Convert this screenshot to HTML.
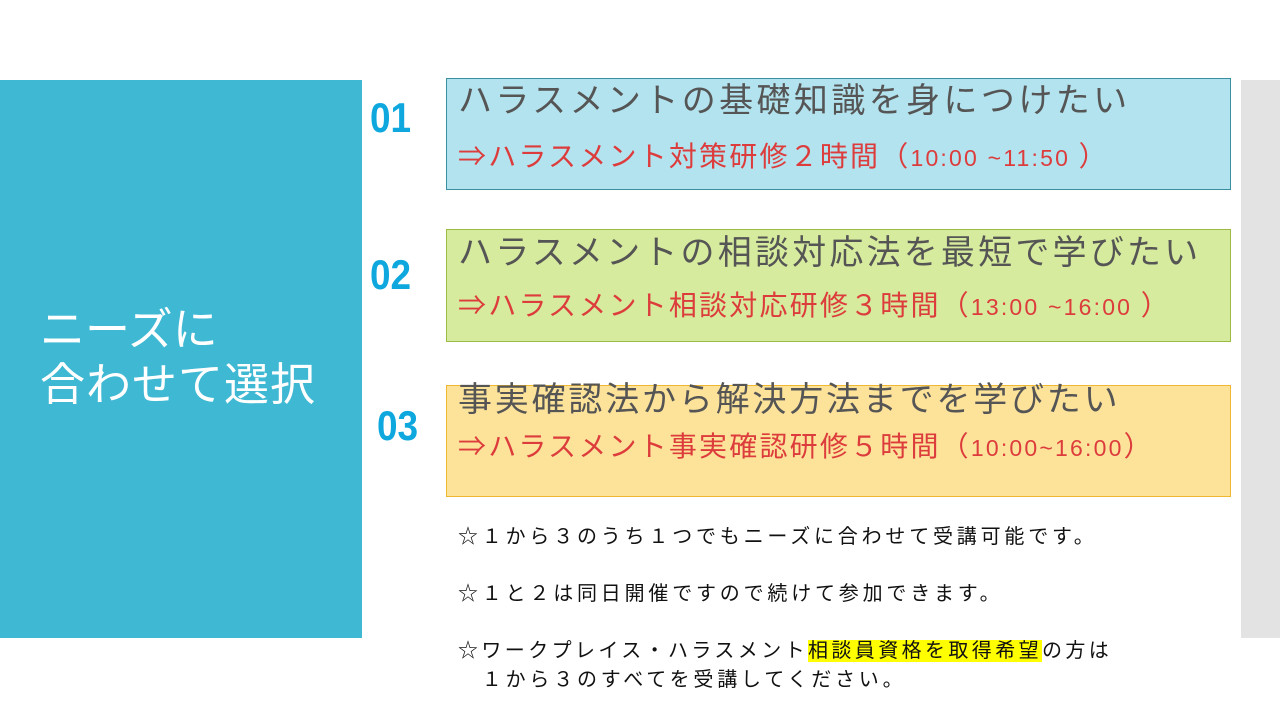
<!DOCTYPE html>
<html><head><meta charset="utf-8"><style>
body{margin:0;width:1280px;height:720px;background:#fff;position:relative;overflow:hidden;font-family:"Liberation Sans","Noto Sans CJK JP",sans-serif}
.a{position:absolute;white-space:nowrap}
.box{position:absolute;left:446px;width:785px;box-sizing:border-box}
.t{position:absolute;left:11px;color:#555;font-size:34px;line-height:40px;white-space:nowrap}
.r{position:absolute;left:11px;color:#dd3c3c;font-size:28px;line-height:32px;white-space:nowrap}
.r small{font-size:23px}
.n{position:absolute;color:#0ea8df;font-weight:bold;font-size:42px;transform:scaleX(.88);transform-origin:left}
.note{position:absolute;left:458px;font-size:20px;color:#111;line-height:26px;white-space:nowrap}
</style></head><body>
<div class="a" style="left:0;top:80px;width:362px;height:558px;background:#3fb8d3"></div>
<div class="a" style="left:1241px;top:80px;width:39px;height:558px;background:#e3e3e3"></div>
<div class="a" style="left:40px;top:302px;color:#fff;font-size:45px;line-height:55px">ニーズに<br><span style="letter-spacing:1px">合わせて選択</span></div>

<div class="n" style="left:370px;top:94px">01</div>
<div class="n" style="left:370px;top:251px">02</div>
<div class="n" style="left:377px;top:402px">03</div>

<div class="box" style="top:78px;height:112px;background:#b3e3ee;border:1px solid #3a8fa0">
<div class="t" style="top:2px;letter-spacing:3.4px">ハラスメントの基礎知識を身につけたい</div>
<div class="r" style="top:62px;letter-spacing:2.2px">⇒ハラスメント対策研修２時間（<small>10:00 ~11:50 </small>）</div>
</div>
<div class="box" style="top:229px;height:113px;background:#d6eb9d;border:1px solid #9bbb45">
<div class="t" style="top:3px;letter-spacing:3.2px">ハラスメントの相談対応法を最短で学びたい</div>
<div class="r" style="top:60px;letter-spacing:2.2px">⇒ハラスメント相談対応研修３時間（<small>13:00 ~16:00 </small>）</div>
</div>
<div class="box" style="top:385px;height:112px;background:#fde39a;border:1px solid #f0b830">
<div class="t" style="top:-6px;font-size:34px;letter-spacing:2.8px">事実確認法から解決方法までを学びたい</div>
<div class="r" style="top:45px;letter-spacing:2.2px">⇒ハラスメント事実確認研修５時間（<small>10:00~16:00</small>）</div>
</div>

<div class="note" style="top:524px;letter-spacing:3.8px">☆１から３のうち１つでもニーズに合わせて受講可能です。</div>
<div class="note" style="top:581px;letter-spacing:3.8px">☆１と２は同日開催ですので続けて参加できます。</div>
<div class="note" style="top:638px;letter-spacing:3.4px">☆ワークプレイス・ハラスメント<span style="background:#ffff00">相談員資格を取得希望</span>の方は</div>
<div class="note" style="top:667px;letter-spacing:3.8px">　１から３のすべてを受講してください。</div>
</body></html>
